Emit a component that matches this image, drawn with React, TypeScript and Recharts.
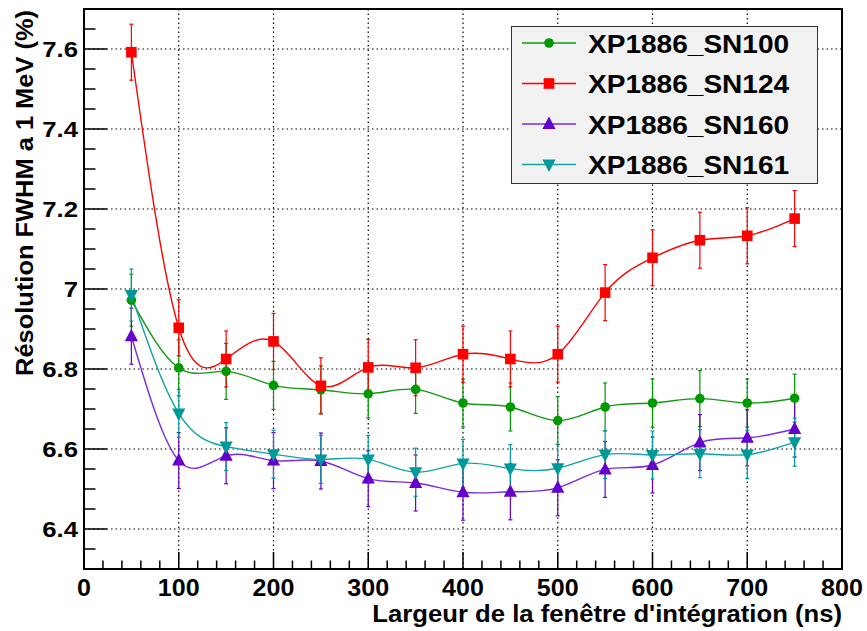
import {
  CartesianGrid,
  ErrorBar,
  Legend,
  Line,
  LineChart,
  ReferenceArea,
  XAxis,
  YAxis,
} from 'recharts';
import type { ReactNode } from 'react';

// integration window (ns)
const windows = [50, 100, 150, 200, 250, 300, 350, 400, 450, 500, 550, 600, 650, 700, 750];

const sn100 = [6.972, 6.803, 6.794, 6.759, 6.748, 6.738, 6.749, 6.715, 6.705, 6.671, 6.705, 6.715, 6.726, 6.715, 6.727];
const sn100Err = [0.065, 0.07, 0.07, 0.06, 0.06, 0.06, 0.06, 0.06, 0.06, 0.06, 0.06, 0.06, 0.07, 0.06, 0.06];
const sn124 = [7.592, 6.903, 6.825, 6.869, 6.758, 6.804, 6.803, 6.837, 6.825, 6.837, 6.991, 7.078, 7.122, 7.133, 7.176];
const sn124Err = [0.07, 0.07, 0.07, 0.07, 0.07, 0.07, 0.07, 0.07, 0.07, 0.07, 0.07, 0.07, 0.07, 0.07, 0.07];
const sn160 = [6.882, 6.571, 6.583, 6.571, 6.57, 6.526, 6.515, 6.492, 6.493, 6.503, 6.549, 6.56, 6.616, 6.628, 6.65];
const sn160Err = [0.07, 0.07, 0.07, 0.07, 0.07, 0.07, 0.07, 0.07, 0.07, 0.07, 0.07, 0.07, 0.07, 0.07, 0.07];
const sn161 = [6.985, 6.689, 6.606, 6.587, 6.574, 6.574, 6.542, 6.564, 6.551, 6.552, 6.586, 6.585, 6.588, 6.586, 6.617];
const sn161Err = [0.065, 0.06, 0.06, 0.06, 0.06, 0.06, 0.06, 0.06, 0.06, 0.06, 0.06, 0.06, 0.06, 0.06, 0.06];

const xMajor = [0, 100, 200, 300, 400, 500, 600, 700, 800];
const yMajor = [6.4, 6.6, 6.8, 7.0, 7.2, 7.4, 7.6];

const data = windows.map((x, i) => ({
  x,
  sn100: sn100[i],
  e100: sn100Err[i],
  sn124: sn124[i],
  e124: sn124Err[i],
  sn160: sn160[i],
  e160: sn160Err[i],
  sn161: sn161[i],
  e161: sn161Err[i],
}));

const xTicks = Array.from({ length: 41 }, (_, i) => i * 20);
const yTicks = Array.from({ length: 29 }, (_, i) => Math.round((6.3 + i * 0.05) * 100) / 100);

const FONT = '"Liberation Sans", Arial, sans-serif';

type Shape = 'circle' | 'square' | 'up' | 'down';

const series: Array<{ key: string; err: string; name: string; color: string; line: string; shape: Shape }> = [
  { key: 'sn100', err: 'e100', name: 'XP1886_SN100', color: '#009900', line: '#119911', shape: 'circle' },
  { key: 'sn124', err: 'e124', name: 'XP1886_SN124', color: '#ff0000', line: '#ff0000', shape: 'square' },
  { key: 'sn160', err: 'e160', name: 'XP1886_SN160', color: '#6600cc', line: '#7a2be0', shape: 'up' },
  { key: 'sn161', err: 'e161', name: 'XP1886_SN161', color: '#009999', line: '#11a3a3', shape: 'down' },
];

const marker = (shape: Shape, cx: number, cy: number, color: string, key?: string) => {
  if (shape === 'circle') return <circle key={key} cx={cx} cy={cy} r={4.8} fill={color} />;
  if (shape === 'square') return <rect key={key} x={cx - 5.3} y={cy - 5.3} width={10.6} height={10.6} fill={color} />;
  if (shape === 'up')
    return <polygon key={key} points={`${cx},${cy - 7.5} ${cx - 6.6},${cy + 5} ${cx + 6.6},${cy + 5}`} fill={color} />;
  return <polygon key={key} points={`${cx},${cy + 7.5} ${cx - 6.6},${cy - 5} ${cx + 6.6},${cy - 5}`} fill={color} />;
};

// bold text, a bit stretched sideways like the ROOT fonts
const Txt = (props: {
  x: number;
  y: number;
  size: number;
  sx?: number;
  rotate?: number;
  anchor?: 'start' | 'middle' | 'end';
  children: ReactNode;
}) => {
  const { x, y, size, sx = 1.1, rotate = 0, anchor = 'start', children } = props;
  return (
    <text
      x={0}
      y={0}
      transform={`translate(${x},${y}) rotate(${rotate}) scale(${sx},1)`}
      textAnchor={anchor}
      fontFamily={FONT}
      fontWeight="bold"
      fontSize={size}
      fill="#000"
    >
      {children}
    </text>
  );
};

const isMajor = (v: number, step: number) => Math.abs(v / step - Math.round(v / step)) < 1e-6;

const XTick = (props: any) => {
  const { x, y, payload } = props;
  const v = payload.value as number;
  const major = isMajor(v, 100);
  return (
    <g>
      <line x1={x} x2={x} y1={y} y2={y - (major ? 17 : 8.5)} stroke="#000" strokeWidth={1.5} />
      {major && (
        <Txt x={x} y={y + 27} size={23} sx={1.09} anchor="middle">
          {v}
        </Txt>
      )}
    </g>
  );
};

const YTick = (props: any) => {
  const { x, y, payload } = props;
  const v = payload.value as number;
  const major = isMajor(v, 0.2);
  return (
    <g>
      <line x1={x} x2={x + (major ? 23 : 11.5)} y1={y} y2={y} stroke="#000" strokeWidth={1.5} />
      {major && (
        <Txt x={x - 6} y={y + 8} size={23} sx={1.12} anchor="end">
          {String(Number(v.toFixed(1)))}
        </Txt>
      )}
    </g>
  );
};

const LegendBox = () => (
  <svg width={308} height={158} style={{ display: 'block' }}>
    <rect x={0.5} y={0.5} width={306} height={157} fill="#f2f2f2" stroke="#333" strokeWidth={1} />
    {series.map((s, i) => {
      const cy = 17 + i * 40.5;
      return (
        <g key={s.key}>
          <line x1={11} x2={65} y1={cy} y2={cy} stroke={s.line} strokeWidth={1.3} />
          {marker(s.shape, 38, cy, s.color)}
          <Txt x={77} y={cy + 9.5} size={25.5} sx={1.1}>
            {s.name}
          </Txt>
        </g>
      );
    })}
  </svg>
);

export default function App() {
  return (
    <div style={{ position: 'absolute', left: 0, top: 0, width: 867, height: 631, background: '#fff' }}>
      <LineChart width={867} height={631} data={data} margin={{ top: 9, right: 25, left: 0, bottom: 0 }}>
        <CartesianGrid
          horizontalValues={yMajor}
          verticalValues={xMajor}
          stroke="#000"
          strokeWidth={1.2}
          strokeDasharray="1.5 3"
        />
        <XAxis
          type="number"
          dataKey="x"
          domain={[0, 800]}
          ticks={xTicks}
          interval={0}
          height={62}
          tickSize={0}
          tickMargin={0}
          tickLine={false}
          axisLine={{ stroke: '#000', strokeWidth: 2 }}
          tick={<XTick />}
          label={({ viewBox }: any) => (
            <Txt x={viewBox.x + viewBox.width} y={viewBox.y + 53} size={24} sx={1.07} anchor="end">
              Largeur de la fenêtre d'intégration (ns)
            </Txt>
          )}
        />
        <YAxis
          type="number"
          domain={[6.3, 7.7]}
          ticks={yTicks}
          interval={0}
          width={84}
          allowDataOverflow
          tickSize={0}
          tickMargin={0}
          tickLine={false}
          axisLine={{ stroke: '#000', strokeWidth: 2 }}
          tick={<YTick />}
          label={() => (
            <Txt x={33} y={10} size={24} sx={1.06} rotate={-90} anchor="end">
              Résolution FWHM a 1 MeV (%)
            </Txt>
          )}
        />
        <ReferenceArea x1={0} x2={800} y1={6.3} y2={7.7} fill="none" stroke="#000" strokeWidth={2} ifOverflow="visible" />
        {series.map((s) => (
          <Line
            key={s.key}
            type="natural"
            dataKey={s.key}
            name={s.name}
            stroke={s.line}
            strokeWidth={1.4}
            isAnimationActive={false}
            activeDot={false}
            dot={(p: any) => marker(s.shape, p.cx, p.cy, s.color, `${s.key}-${p.index}`)}
          >
            <ErrorBar dataKey={s.err} width={2} stroke={s.color} strokeWidth={1.2} direction="y" isAnimationActive={false} />
          </Line>
        ))}
        <Legend
          layout="vertical"
          align="center"
          verticalAlign="middle"
          wrapperStyle={{ left: 511, top: 26, width: 308, height: 158 }}
          content={() => <LegendBox />}
        />
      </LineChart>
    </div>
  );
}
